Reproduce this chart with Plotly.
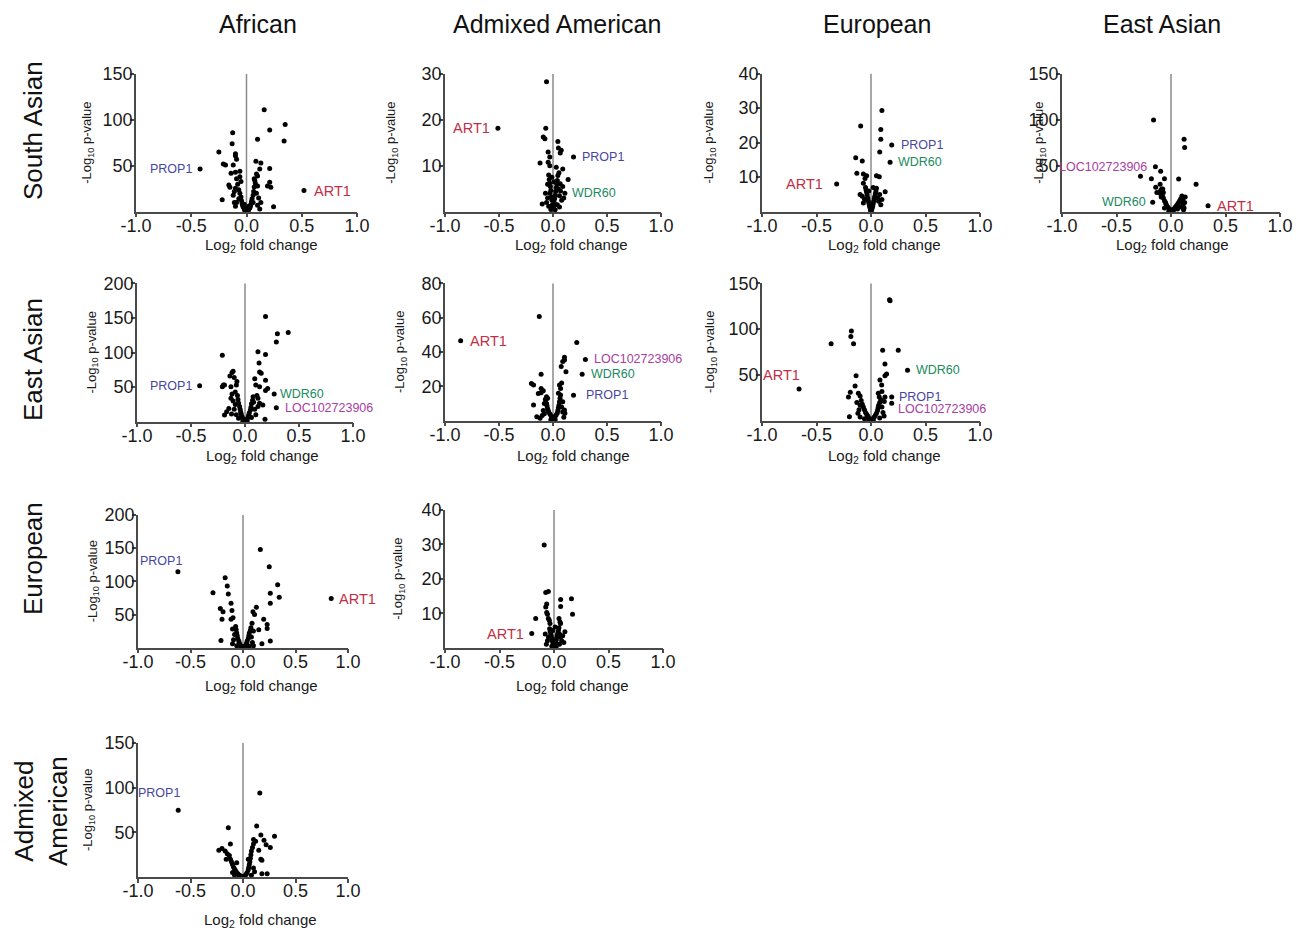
import plotly.graph_objects as go

# page is drawn with an 8px body margin, so the figure is offset by 8px
OFF = 8
W, H = 1304 - OFF, 932 - OFF

# ------------------------------------------------------------------ data
col_titles = ["African", "Admixed American", "European", "East Asian"]
row_titles = ["South Asian", "East Asian", "European", "Admixed<br>American"]
x_tickvals = [-1.0, -0.5, 0.0, 0.5, 1.0]
x_ticktext = ["-1.0", "-0.5", "0.0", "0.5", "1.0"]

# Panel 1: South Asian vs African
p1_x = [0.16, 0.35, 0.21, 0.34, 0.10, -0.125, -0.13, -0.25, -0.10, -0.10, -0.21, -0.19, -0.12, -0.09,
        0.085, 0.13, 0.12, 0.21, -0.14, -0.10, -0.06, 0.09, 0.10, 0.07, 0.21, 0.19, -0.05, -0.16, -0.15,
        -0.10, 0.22, -0.22, -0.12, -0.11, 0.13, 0.245, 0.12,
        -0.08, -0.07, -0.06, -0.05, -0.045, -0.04, -0.035, -0.03, -0.02, -0.01, 0.0, 0.01, 0.02, 0.03,
        0.035, 0.04, 0.045, 0.05, 0.06, 0.065, 0.07, 0.08, -0.09, 0.09, -0.07, 0.06, -0.02, 0.02, -0.005,
        0.005, -0.06, 0.075, 0.10, -0.11, 0.11, -0.09, -0.015, 0.015, 0.10, -0.10]
p1_y = [111, 95, 89, 77, 79, 86, 74, 65, 63, 61, 52, 51, 51, 57,
        55, 53, 46.5, 47, 42, 43, 44, 41, 39, 36, 32, 28, 33, 29, 26.5,
        25.5, 26.5, 13, 18, 10, 10, 5.5, 3,
        30, 24, 20, 16, 12, 9, 7, 5, 3, 1.5, 0.5, 1, 2.5, 4,
        6, 8, 11, 14, 18, 22, 27, 31, 36, 20, 14, 10, 8, 6, 3,
        4, 38, 34, 28, 22, 15, 10, 1, 0.8, 7, 6]
p1_genes = ["PROP1", "ART1"]
p1_gx = [-0.42, 0.52]
p1_gy = [46.5, 23]
p1_ymax = 150
p1_yticks = [50, 100, 150]

# Panel 2: South Asian vs Admixed American
p2_x = [-0.06, -0.067, -0.09, -0.075, -0.12, 0.045, 0.05, 0.076, 0.067, -0.045, -0.03, -0.045, -0.03,
        0.03, 0.09, 0.045, 0.14, 0.067, -0.10,
        -0.04, -0.035, -0.03, -0.025, -0.02, -0.03, -0.015, -0.01, -0.005, 0.0, 0.005, 0.01, 0.015, 0.02,
        0.025, 0.03, 0.035, 0.04, 0.05, 0.06, 0.07, 0.08, -0.05, -0.06, -0.04, 0.04, -0.02, 0.02, 0.055,
        -0.05, 0.09, 0.10, -0.07, 0.06, -0.01, 0.01]
p2_y = [28.3, 18.2, 16.3, 15.9, 10.6, 15.3, 13.9, 13.4, 12.8, 13.0, 11.9, 10.8, 10.0,
        9.7, 9.3, 7.9, 7.0, 6.1, 1.7,
        8.0, 7.0, 6.2, 5.5, 4.6, 4.0, 3.2, 2.5, 1.5, 0.6, 1.0, 2.0, 2.8, 3.6,
        4.4, 5.2, 6.0, 6.8, 5.0, 3.5, 4.5, 2.5, 3.0, 2.0, 1.2, 1.5, 0.5, 0.4, 8.5,
        6.0, 5.5, 3.0, 4.0, 1.0, 7.5, 6.5]
p2_genes = ["ART1", "PROP1", "WDR60"]
p2_gx = [-0.51, 0.19, 0.11]
p2_gy = [18.2, 11.9, 4.0]
p2_ymax = 30
p2_yticks = [10, 20, 30]

# Panel 3: South Asian vs European
p3_x = [0.10, 0.09, 0.09, 0.08, -0.095, -0.14, -0.08, -0.13, -0.07, -0.04, -0.055, 0.05, 0.076, 0.13,
        -0.07,
        -0.05, -0.045, -0.04, -0.035, -0.03, -0.025, -0.02, -0.015, -0.01, 0.0, 0.01, 0.015, 0.02, 0.025,
        0.03, 0.035, 0.04, 0.045, 0.05, 0.06, 0.07, 0.08, -0.06, -0.07, -0.08, 0.09, -0.02, 0.02, -0.005,
        0.005, 0.10, -0.10]
p3_y = [29.3, 23.8, 21.0, 17.3, 24.8, 15.6, 14.7, 11.1, 10.9, 10.4, 9.6, 10.4, 10.1, 5.8,
        8.2,
        7.0, 6.3, 5.6, 4.8, 4.0, 3.2, 2.5, 1.8, 1.2, 0.5, 1.0, 1.6, 2.3, 3.0,
        3.8, 4.5, 5.3, 6.0, 6.8, 4.0, 3.0, 5.0, 3.5, 2.5, 4.5, 2.0, 6.0, 7.0, 0.4,
        0.3, 3.5, 5.0]
p3_genes = ["ART1", "PROP1", "WDR60"]
p3_gx = [-0.315, 0.19, 0.175]
p3_gy = [8.0, 19.3, 14.3]
p3_ymax = 40
p3_yticks = [10, 20, 30, 40]

# Panel 4: South Asian vs East Asian
p4_x = [-0.16, 0.12, 0.125, -0.28, -0.18, -0.095, -0.06, 0.07, 0.23, -0.14, -0.10, -0.085, -0.095,
        -0.07, -0.076, -0.13, 0.125, 0.11, 0.10,
        -0.08, -0.07, -0.06, -0.05, -0.045, -0.04, -0.03, -0.02, -0.01, 0.0, 0.01, 0.02, 0.03, 0.04,
        0.05, 0.06, 0.07, 0.08, 0.09, 0.10, 0.11, 0.09, -0.09, -0.10, -0.06, 0.06, 0.12, -0.02, 0.02,
        0.13, 0.115]
p4_y = [100, 79, 70, 38.5, 36, 44, 36, 35.6, 30, 26.5, 30, 24.7, 23,
        21, 24.7, 21, 10, 14, 17,
        18, 15, 12, 10, 8, 6.5, 5, 3.5, 2, 1, 1.5, 2.5, 3.5, 5,
        6.5, 8, 10, 12, 14, 11, 7, 5, 16, 20, 4, 3, 4, 0.5, 0.6,
        16, 2]
p4_genes = ["LOC102723906", "WDR60", "ART1"]
p4_gx = [-0.143, -0.168, 0.34]
p4_gy = [49, 10.2, 6.5]
p4_ymax = 150
p4_yticks = [50, 100, 150]

# Panel 5: East Asian vs African
p5_x = [0.19, 0.30, 0.40, 0.29, 0.12, 0.19, -0.21, 0.13, 0.135, 0.15, -0.11, -0.12, -0.14, -0.10,
        0.09, 0.19, -0.20, -0.21, -0.19, -0.075, -0.08, -0.13, 0.10, 0.135, 0.21, 0.19, -0.09, -0.13,
        0.12, 0.135, 0.165, -0.15, -0.17, -0.125, -0.19, 0.185,
        -0.07, -0.065, -0.06, -0.05, -0.045, -0.04, -0.035, -0.03, -0.02, -0.01, 0.0, 0.01, 0.02, 0.03,
        0.035, 0.04, 0.05, 0.055, 0.06, 0.07, 0.075, 0.08, -0.09, -0.10, 0.09, 0.10, -0.08, -0.11, 0.11,
        -0.02, 0.02, 0.06, -0.06, 0.12, -0.12]
p5_y = [152, 127, 129, 115, 101, 97, 96, 85, 72, 70, 73, 71, 66, 64,
        62, 60, 53, 50.6, 53, 58, 53, 50.6, 53, 50.6, 48, 45, 43, 34,
        34, 26.5, 24, 19, 14.5, 11, 9.6, 3.4,
        38, 32, 27, 22, 18, 14, 11, 8, 5, 2.5, 1, 2, 4, 7,
        10, 13, 17, 21, 26, 31, 36, 28, 25, 18, 18, 10, 10, 30, 38,
        0.8, 0.6, 6, 5, 22, 40]
p5_genes = ["PROP1", "WDR60", "LOC102723906"]
p5_gx = [-0.42, 0.27, 0.29]
p5_gy = [52, 40, 20]
p5_ymax = 200
p5_yticks = [50, 100, 150, 200]

# Panel 6: East Asian vs Admixed American
p6_x = [-0.127, 0.22, 0.106, 0.106, 0.09, 0.076, 0.12, -0.11, -0.20, -0.18, 0.06, 0.07, -0.11, -0.09,
        -0.11, -0.136, -0.06, -0.067, -0.18, 0.09, 0.106, 0.11, -0.15, -0.12,
        -0.06, -0.055, -0.05, -0.045, -0.04, -0.03, -0.02, -0.01, 0.0, 0.01, 0.02, 0.03, 0.04, 0.045,
        0.05, 0.055, 0.06, 0.065, 0.07, -0.07, -0.08, -0.09, 0.08, 0.09, -0.10, 0.10, -0.02, 0.02, 0.05,
        -0.05, 0.08, -0.08]
p6_y = [60.6, 45.6, 36.9, 35.3, 34.4, 31.5, 28.5, 27, 21.7, 20.8, 20.8, 18.8, 18.8, 17.5,
        16.3, 15.9, 14, 12, 9.1, 11, 6.2, 4.3, 2.3, 1.4,
        10, 8.5, 7, 6, 5, 4, 3, 1.8, 0.8, 1.5, 2.5, 3.5, 4.5, 6,
        7.5, 9, 11, 13, 15, 12.5, 10, 6, 8, 5, 3, 2, 0.6, 0.5, 16,
        13, 22, 4]
p6_genes = ["ART1", "LOC102723906", "WDR60", "PROP1"]
p6_gx = [-0.855, 0.30, 0.27, 0.19]
p6_gy = [46.6, 35.7, 27, 14.8]
p6_ymax = 80
p6_yticks = [20, 40, 60, 80]

# Panel 7: East Asian vs European
p7_x = [0.17, 0.175, -0.18, -0.185, -0.16, -0.366, 0.107, 0.25, 0.128, 0.143, 0.128, -0.137, -0.146,
        0.082, 0.098, -0.19, -0.116, -0.10, 0.067, 0.076, -0.207, 0.128, 0.122, -0.198,
        -0.09, -0.08, -0.07, -0.06, -0.05, -0.04, -0.03, -0.02, -0.01, 0.0, 0.01, 0.02, 0.03, 0.04, 0.05,
        0.06, 0.065, 0.07, 0.08, 0.09, -0.10, -0.11, -0.12, -0.10, 0.10, 0.11, 0.12, 0.08, -0.06, -0.02,
        0.02, -0.13, 0.10]
p7_y = [132, 131, 98, 92, 84, 84, 77, 77, 62, 51, 49, 49, 38,
        44.4, 39, 31, 30, 27, 30, 26, 26, 26, 21, 4.4,
        22, 18, 15, 12, 9, 7, 5, 3, 1.5, 0.7, 1.2, 2.5, 4, 6, 8,
        11, 14, 17, 20, 23, 17, 12, 8, 4, 15, 9, 5, 3, 2, 0.5,
        0.4, 20, 32]
p7_genes = ["ART1", "WDR60", "PROP1", "LOC102723906"]
p7_gx = [-0.66, 0.335, 0.19, 0.19]
p7_gy = [34.6, 55, 26, 19]
p7_ymax = 150
p7_yticks = [50, 100, 150]

# Panel 8: European vs African
p8_x = [0.165, 0.25, 0.33, 0.345, 0.26, 0.26, -0.17, -0.15, -0.14, -0.286, -0.114, -0.216, -0.19,
        -0.105, -0.20, -0.114, -0.095, 0.11, 0.095, 0.127, 0.086, 0.197, 0.23, 0.23, 0.15, 0.26, -0.21,
        0.18,
        -0.07, -0.065, -0.06, -0.055, -0.05, -0.04, -0.035, -0.03, -0.02, -0.01, 0.0, 0.01, 0.02, 0.03,
        0.035, 0.04, 0.05, 0.055, 0.06, 0.07, 0.075, -0.08, -0.09, -0.10, 0.08, 0.09, 0.10, -0.06, 0.06,
        -0.02, 0.02, 0.10, -0.10]
p8_y = [148, 122, 95, 76, 82, 67, 105.5, 93, 81, 83, 67, 59, 54,
        56, 43, 43, 45, 50, 54, 61, 37, 43, 35, 29, 27, 10, 11,
        6,
        32, 27, 22, 18, 14, 10, 7, 5, 3, 1.5, 0.6, 1.2, 2.5, 4.5,
        7, 10, 14, 18, 22, 26, 30, 20, 12, 6, 16, 8, 3, 3, 2,
        0.5, 0.4, 25, 28]
p8_genes = ["PROP1", "ART1"]
p8_gx = [-0.62, 0.84]
p8_gy = [114.6, 74]
p8_ymax = 200
p8_yticks = [50, 100, 150, 200]

# Panel 9: European vs Admixed American
p9_x = [-0.09, -0.076, -0.052, -0.168, 0.061, 0.061, 0.16, 0.17, -0.067, -0.076, -0.067, -0.06, 0.046,
        0.055, 0.06, -0.052, -0.043, -0.037, 0.10,
        -0.04, -0.035, -0.03, -0.025, -0.02, -0.015, -0.01, 0.0, 0.01, 0.015, 0.02, 0.025, 0.03, 0.035,
        0.04, 0.045, 0.05, 0.06, 0.07, 0.08, -0.05, -0.06, -0.07, 0.05, -0.02, 0.02, -0.01, 0.01, 0.09,
        -0.08]
p9_y = [29.8, 16, 16.3, 8.5, 14, 12, 14.2, 9.7, 12.7, 11.8, 10.2, 9.7, 8.5,
        7.5, 7, 8.5, 8, 7, 4.6,
        5.5, 4.8, 4, 3.3, 2.6, 2, 1.4, 0.5, 1, 1.6, 2.2, 2.9, 3.6, 4.3,
        5, 5.8, 4, 3, 2, 3.5, 3, 2, 1, 1, 0.4, 0.3, 5, 6, 1.5,
        4]
p9_genes = ["ART1"]
p9_gx = [-0.204]
p9_gy = [4.1]
p9_ymax = 40
p9_yticks = [10, 20, 30, 40]

# Panel 10: Admixed American vs African
p10_x = [0.16, -0.14, 0.13, 0.17, 0.30, 0.20, 0.26, 0.22, -0.20, -0.23, -0.17, -0.15, 0.17, 0.18, 0.18,
         0.23, 0.12, 0.10, -0.12, 0.15,
         -0.13, -0.12, -0.11, -0.10, -0.09, -0.08, -0.07, -0.06, -0.05, -0.04, -0.03, -0.02, -0.01, 0.0,
         0.01, 0.02, 0.03, 0.04, 0.05, 0.055, 0.06, 0.065, 0.07, 0.075, 0.08, 0.09, 0.10, -0.16, -0.10,
         0.10, 0.11, -0.08, 0.08, -0.06, 0.05]
p10_y = [94, 55, 57, 47, 45.5, 41, 33, 36, 32, 30, 29, 26, 20, 18.7, 3.7,
         3.7, 40, 42, 37, 30,
         24, 20, 17, 14, 11, 9, 7, 5, 3.5, 2.5, 1.5, 1, 0.5, 0.3,
         0.8, 1.5, 3, 5, 8, 11, 14, 17, 21, 25, 29, 33, 37, 20, 5,
         10, 6, 2, 2, 16, 20]
p10_genes = ["PROP1", "ART1"]
p10_gx = [-0.617, 1.035]
p10_gy = [74.6, 96.3]
p10_ymax = 150
p10_yticks = [50, 100, 150]

panels_data = [
    (p1_x, p1_y, p1_genes, p1_gx, p1_gy, p1_ymax, p1_yticks),
    (p2_x, p2_y, p2_genes, p2_gx, p2_gy, p2_ymax, p2_yticks),
    (p3_x, p3_y, p3_genes, p3_gx, p3_gy, p3_ymax, p3_yticks),
    (p4_x, p4_y, p4_genes, p4_gx, p4_gy, p4_ymax, p4_yticks),
    (p5_x, p5_y, p5_genes, p5_gx, p5_gy, p5_ymax, p5_yticks),
    (p6_x, p6_y, p6_genes, p6_gx, p6_gy, p6_ymax, p6_yticks),
    (p7_x, p7_y, p7_genes, p7_gx, p7_gy, p7_ymax, p7_yticks),
    (p8_x, p8_y, p8_genes, p8_gx, p8_gy, p8_ymax, p8_yticks),
    (p9_x, p9_y, p9_genes, p9_gx, p9_gy, p9_ymax, p9_yticks),
    (p10_x, p10_y, p10_genes, p10_gx, p10_gy, p10_ymax, p10_yticks),
]

# ------------------------------------------------------------------ layout / style
FONT = "Liberation Sans, Arial, Helvetica, sans-serif"
AXIS_COLOR = "#4a4a4a"
ZERO_COLOR = "#8a8a8a"
GENE_COLORS = {"PROP1": "#4646a0", "ART1": "#bf2f45", "WDR60": "#218a5e",
               "LOC102723906": "#a63ea0"}
GENE_SIZES = {"PROP1": 12.5, "ART1": 14.5, "WDR60": 12.5, "LOC102723906": 12.5}

# pixel geometry (page pixels): left, right, top, bottom, y-title x, x-title x, x-title y
GEOM = [
    (136, 357, 74, 211.7, 88, 261, 245),
    (445, 661, 74, 211.7, 392, 571, 245),
    (762, 980, 73.5, 211.7, 710, 884, 245),
    (1062, 1280, 74, 211.7, 1040, 1172, 245),
    (137, 353, 283.3, 421.7, 92, 262, 456),
    (445, 661, 283.3, 420.7, 400, 573, 456),
    (762, 980, 283.3, 420.7, 710, 884, 456),
    (138, 348, 515, 647.7, 93, 261, 686),
    (445, 663, 510, 647.7, 399, 572, 686),
    (138, 348, 743, 877, 88, 260, 920),
]

# label placement per panel: gene -> (xanchor, xshift, yshift)
LABEL_POS = [
    {"PROP1": ("right", -6, 0), "ART1": ("left", 8, 0)},
    {"ART1": ("right", -6, 0), "PROP1": ("left", 6, 0), "WDR60": ("left", 5, 0)},
    {"ART1": ("right", -12, 0), "PROP1": ("left", 7, 0), "WDR60": ("left", 6, 0)},
    {"LOC102723906": ("right", -6, 0), "WDR60": ("right", -5, 0), "ART1": ("left", 7, 0)},
    {"PROP1": ("right", -6, 0), "WDR60": ("left", 4, 0), "LOC102723906": ("left", 7, 0)},
    {"ART1": ("left", 7, 0), "LOC102723906": ("left", 7, 0), "WDR60": ("left", 7, 0),
     "PROP1": ("left", 10, 0)},
    {"ART1": ("right", 3, 14), "WDR60": ("left", 6, 0), "PROP1": ("left", 5, 0),
     "LOC102723906": ("left", 4, -6)},
    {"PROP1": ("right", 6, 11), "ART1": ("left", 6, 0)},
    {"ART1": ("right", -6, 0)},
    {"PROP1": ("right", 4, 17), "ART1": ("right", -8, 0)},
]

COL_TITLE_POS = [(258, 24), (557, 24), (877, 24), (1162, 24)]
ROW_TITLE_POS = [(33, 131), (33, 360), (33, 559), (41, 811)]


def px_x(v):
    return (v - OFF) / W


def px_y(v):
    return 1 - (v - OFF) / H


fig = go.Figure()
layout = dict(
    template="none",
    width=W, height=H, autosize=False,
    margin=dict(l=0, r=0, t=0, b=0, pad=0, autoexpand=False),
    paper_bgcolor="white", plot_bgcolor="white",
    showlegend=False,
    font=dict(family=FONT, color="#1a1a1a"),
)
annotations = []
shapes = []

for i, (xs, ys, genes, gx, gy, ymax, yticks) in enumerate(panels_data):
    n = i + 1
    sfx = "" if n == 1 else str(n)
    left, right, top, bottom, ytx, xtx, xty = GEOM[i]

    fig.add_trace(go.Scatter(
        x=list(xs) + list(gx), y=list(ys) + list(gy), mode="markers",
        marker=dict(color="black", size=5, line=dict(width=0)),
        cliponaxis=False, hoverinfo="x+y",
        xaxis="x" + sfx, yaxis="y" + sfx,
    ))

    axis_common = dict(
        automargin=False,
        showline=True, linecolor=AXIS_COLOR, linewidth=1.5,
        ticks="outside", ticklen=4, tickwidth=1.5, tickcolor=AXIS_COLOR,
        showgrid=False, zeroline=False,
        tickfont=dict(size=18, color="#1a1a1a", family=FONT),
    )
    layout["xaxis" + sfx] = dict(
        domain=[px_x(left), px_x(right)], anchor="y" + sfx,
        range=[-1, 1], tickvals=x_tickvals, ticktext=x_ticktext,
        ticklabelstandoff=-7, **axis_common)
    layout["yaxis" + sfx] = dict(
        domain=[px_y(bottom), px_y(top)], anchor="x" + sfx,
        range=[0, ymax], tickvals=yticks, ticktext=[str(t) for t in yticks],
        ticklabelstandoff=-6, **axis_common)

    # vertical reference line at zero
    shapes.append(dict(type="line", xref="x" + sfx, yref="y" + sfx,
                       x0=0, x1=0, y0=0, y1=ymax,
                       line=dict(color=ZERO_COLOR, width=1.5), layer="below"))

    # axis titles
    annotations.append(dict(
        text="Log<sub>2</sub> fold change", xref="paper", yref="paper",
        x=px_x(xtx), y=px_y(xty), xanchor="center", yanchor="middle",
        showarrow=False, font=dict(size=15, family=FONT, color="#1a1a1a")))
    annotations.append(dict(
        text="-Log<sub>10</sub> p-value", xref="paper", yref="paper",
        x=px_x(ytx), y=px_y((top + bottom) / 2), xanchor="center", yanchor="middle",
        textangle=-90, showarrow=False,
        font=dict(size=13, family=FONT, color="#1a1a1a")))

    # gene labels
    for g, x0, y0 in zip(genes, gx, gy):
        anchor, dx, dy = LABEL_POS[i][g]
        annotations.append(dict(
            text=g, x=x0, y=y0, xref="x" + sfx, yref="y" + sfx,
            xanchor=anchor, yanchor="middle", xshift=dx, yshift=dy,
            showarrow=False,
            font=dict(size=GENE_SIZES[g], color=GENE_COLORS[g], family=FONT)))

for t, (cx, cy) in zip(col_titles, COL_TITLE_POS):
    annotations.append(dict(text=t, xref="paper", yref="paper", x=px_x(cx), y=px_y(cy),
                            xanchor="center", yanchor="middle", showarrow=False,
                            font=dict(size=25, family=FONT, color="#111111")))
for t, (cx, cy) in zip(row_titles, ROW_TITLE_POS):
    annotations.append(dict(text=t, xref="paper", yref="paper", x=px_x(cx), y=px_y(cy),
                            xanchor="center", yanchor="middle", textangle=-90,
                            showarrow=False,
                            font=dict(size=26, family=FONT, color="#111111")))

layout["annotations"] = annotations
layout["shapes"] = shapes
fig.update_layout(**layout)

fig.write_html("out.html")
